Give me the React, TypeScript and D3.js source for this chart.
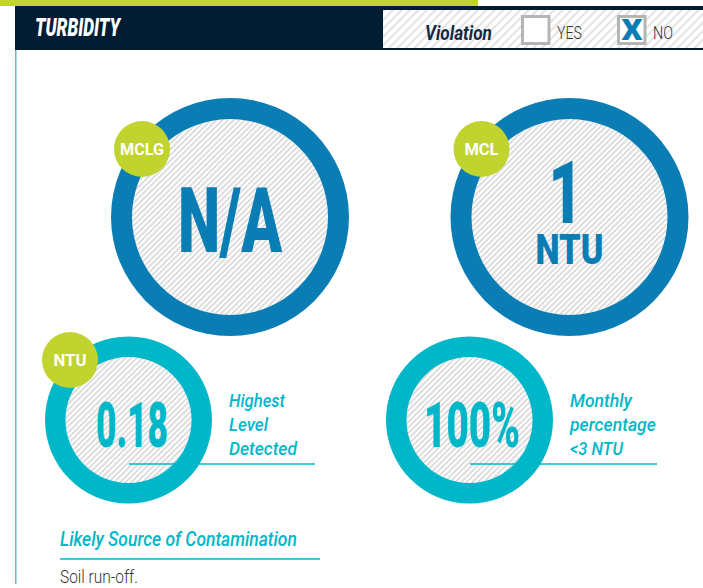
import React, { useLayoutEffect, useRef, useState } from "react";
import * as d3 from "d3";

const W = 703;
const H = 588;

const titleText = "TURBIDITY";
const violationLabel = "Violation";
const violationOptions = ["YES", "NO"];
const violationChecked = [false, true];

const bigCircleBadges = ["MCLG", "MCL"];
const bigCircleMain = ["N/A", "1"];
const bigCircleSub = ["", "NTU"];

const smallCircleBadges = ["NTU", ""];
const smallCircleValues = ["0.18", "100%"];
const smallCircleCaptions = [
  ["Highest", "Level", "Detected"],
  ["Monthly", "percentage", "<3 NTU"],
];

const sourceTitle = "Likely Source of Contamination";
const sourceText = "Soil run-off.";

const BLUE = "#0a7db5";
const TEAL = "#00b7c9";
const GREEN = "#c1d32f";
const NAVY = "#021d33";
const FONT = "Roboto, 'DejaVu Sans', sans-serif";

// Text squeezed horizontally to a given width (condensed look) via a real scale transform.
function FitText({ x, y, w, anchor = "start", children, ...rest }: any) {
  const ref = useRef<SVGTextElement>(null);
  const [sx, setSx] = useState(1);
  useLayoutEffect(() => {
    if (ref.current) {
      const n = ref.current.getComputedTextLength();
      if (n > 0) setSx(w / n);
    }
  }, [w, children]);
  const x0 = anchor === "middle" ? x - w / 2 : x;
  return (
    <text ref={ref} transform={`translate(${x0},${y}) scale(${sx},1)`} x={0} y={0} textAnchor="start"
      fontFamily={FONT} {...rest}>{children}</text>
  );
}

function Ring({ cx, cy, r0, r1, color, hatch }: any) {
  const arc = d3.arc()({ innerRadius: r0, outerRadius: r1, startAngle: 0, endAngle: 2 * Math.PI } as any) as string;
  return (
    <g transform={`translate(${cx},${cy})`}>
      <circle r={r0} fill="#fff" />
      <circle r={r0} fill={`url(#${hatch})`} />
      <path d={arc} fill={color} />
    </g>
  );
}

function Badge({ cx, cy, label, w }: any) {
  if (!label) return null;
  return (
    <g>
      <circle cx={cx} cy={cy} r={28} fill={GREEN} />
      <FitText x={cx} y={cy + 6} w={w} anchor="middle" fontWeight={700} fontSize={17} fill="#fff">{label}</FitText>
    </g>
  );
}

export default function App() {
  const bigX = d3.scalePoint<number>().domain([0, 1]).range([230, 569.5]);
  const smallX = d3.scalePoint<number>().domain([0, 1]).range([128.5, 469.5]);
  const bigY = 217;
  const smallY = 420;
  const bigBadgeW = [44, 34];
  const smallBadgeW = [33, 0];
  const smallValW = [72, 96];
  const capX = [229, 570];
  const capW = [[56, 39, 68], [62, 86, 53]];
  const capBase = [407, 431, 455];
  const underline = [[129, 315], [470, 657]];

  return (
    <svg width={W} height={H} style={{ position: "absolute", left: 0, top: 0, display: "block" }}>
      <defs>
        <pattern id="hatchHead" width="6" height="6" patternUnits="userSpaceOnUse" patternTransform="rotate(-45)">
          <rect width="6" height="6" fill="#fff" />
          <line x1="0" y1="3" x2="6" y2="3" stroke="#c8c8c8" strokeWidth="1" />
        </pattern>
        <pattern id="hatchCirc" width="4" height="4" patternUnits="userSpaceOnUse" patternTransform="rotate(-45)">
          <line x1="0" y1="2" x2="4" y2="2" stroke="#aaaaaa" strokeWidth="0.8" />
        </pattern>
      </defs>
      <rect x={0} y={0} width={W} height={H} fill="#fff" />
      {/* header */}
      <rect x={0} y={0} width={478} height={6} fill={GREEN} />
      <rect x={15} y={6} width={W - 15} height={44} fill={NAVY} />
      <rect x={383} y={10} width={W - 383} height={38} fill="url(#hatchHead)" />
      <FitText x={35} y={36} w={85} fontStyle="italic" fontWeight={900} fontSize={25} fill="#fff">{titleText}</FitText>
      <FitText x={425} y={40} w={67} fontStyle="italic" fontWeight={700} fontSize={21} fill="#132a45">{violationLabel}</FitText>
      {violationOptions.map((o, i) => {
        const bx = [521, 617][i];
        return (
          <g key={o}>
            <rect x={bx + 1.5} y={16.5} width={26.5} height={27} fill="#fff" stroke="#b5b5b5" strokeWidth={3} />
            {violationChecked[i] && (
              <FitText x={bx + 15} y={40} w={21} anchor="middle" fontWeight={900} fontSize={30} fill={BLUE}>X</FitText>
            )}
            <FitText x={bx + 36} y={39} w={[25, 20][i]} fontWeight={300} fontSize={18} fill="#333">{o}</FitText>
          </g>
        );
      })}
      {/* left rule */}
      <line x1={15.75} y1={50} x2={15.75} y2={584} stroke="#52c4d2" strokeWidth={1.5} />

      {/* big circles */}
      {bigCircleMain.map((m, i) => {
        const cx = bigX(i)!;
        return (
          <g key={"b" + i}>
            <Ring cx={cx} cy={bigY} r0={98} r1={119} color={BLUE} hatch="hatchCirc" />
            <Badge cx={cx - 88} cy={149} label={bigCircleBadges[i]} w={bigBadgeW[i]} />
            {bigCircleSub[i] === "" ? (
              <FitText x={cx} y={252} w={104} anchor="middle" fontWeight={900} fontSize={91} fill={BLUE}>{m}</FitText>
            ) : (
              <g>
                <FitText x={cx - 4} y={223} w={34} anchor="middle" fontWeight={900} fontSize={88} fill={BLUE}>{m}</FitText>
                <FitText x={cx} y={264} w={68} anchor="middle" fontWeight={900} fontSize={42} fill={BLUE}>{bigCircleSub[i]}</FitText>
              </g>
            )}
          </g>
        );
      })}

      {/* small circles */}
      {smallCircleValues.map((v, i) => {
        const cx = smallX(i)!;
        return (
          <g key={"s" + i}>
            <Ring cx={cx} cy={smallY} r0={63} r1={83.5} color={TEAL} hatch="hatchCirc" />
            <Badge cx={cx - 58.5} cy={360} label={smallCircleBadges[i]} w={smallBadgeW[i]} />
            <FitText x={cx + (i === 0 ? 3.5 : 2.5)} y={447} w={smallValW[i]} anchor="middle" fontWeight={900} fontSize={63}
              fill={TEAL}>{v}</FitText>
            {smallCircleCaptions[i].map((c, j) => (
              <FitText key={c} x={capX[i]} y={capBase[j]} w={capW[i][j]} fontStyle="italic" fontWeight={500}
                fontSize={18} fill={TEAL}>{c}</FitText>
            ))}
            <line x1={underline[i][0]} y1={464} x2={underline[i][1]} y2={464} stroke={TEAL} strokeWidth={1.5} />
          </g>
        );
      })}

      {/* source */}
      <FitText x={60} y={546} w={237} fontStyle="italic" fontWeight={500} fontSize={20} fill={TEAL}>{sourceTitle}</FitText>
      <line x1={60} y1={559} x2={320} y2={559} stroke={TEAL} strokeWidth={1.5} />
      <FitText x={60} y={583} w={78} fontWeight={300} fontSize={18} fill="#333">{sourceText}</FitText>
    </svg>
  );
}
